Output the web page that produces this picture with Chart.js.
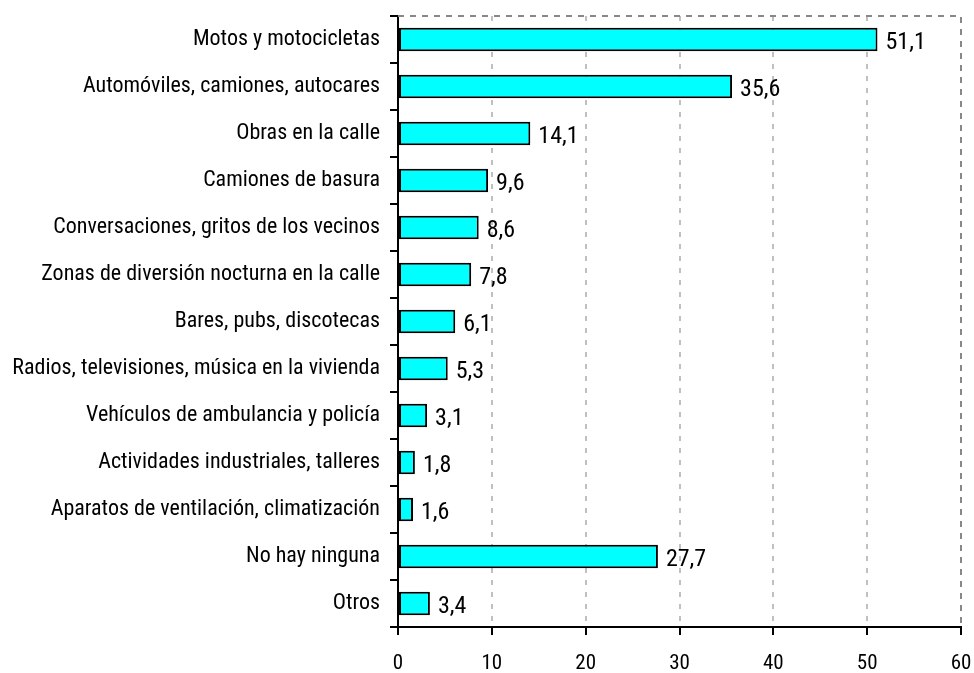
<!DOCTYPE html>
<html>
<head>
<meta charset="utf-8">
<script src="https://cdn.jsdelivr.net/npm/chart.js@4"></script>
<style>
  html, body { margin: 0; padding: 0; background: #fff; }
  #wrap { width: 974px; height: 673px; }
</style>
</head>
<body>
<div id="wrap"><canvas id="miGrafico"></canvas></div>
<script>
// categorias y valores (%)
const categorias = [
    'Motos y motocicletas',
    'Automóviles, camiones, autocares',
    'Obras en la calle',
    'Camiones de basura',
    'Conversaciones, gritos de los vecinos',
    'Zonas de diversión nocturna en la calle',
    'Bares, pubs, discotecas',
    'Radios, televisiones, música en la vivienda',
    'Vehículos de ambulancia y policía',
    'Actividades industriales, talleres',
    'Aparatos de ventilación, climatización',
    'No hay ninguna',
    'Otros'
]
const valores = [51.1, 35.6, 14.1, 9.6, 8.6, 7.8, 6.1, 5.3, 3.1, 1.8, 1.6, 27.7, 3.4]
const ejeMin = 0
const ejeMax = 60
const ejePaso = 10

const fuente = "'Roboto Condensed', 'DejaVu Sans Condensed', sans-serif"

// etiquetas de valor al final de cada barra
const etiquetasValor = {
    id: 'etiquetasValor',
    afterDatasetsDraw(chart) {
        const ctx = chart.ctx
        const meta = chart.getDatasetMeta(0)
        ctx.save()
        ctx.font = '24px ' + fuente
        ctx.fillStyle = '#000'
        ctx.textAlign = 'left'
        ctx.textBaseline = 'middle'
        meta.data.forEach(function(barra, i) {
            const txt = valores[i].toFixed(1).replace('.', ',')
            ctx.fillText(txt, barra.x + 8, barra.y + 3)
        })
        ctx.restore()
    }
}

// borde superior y derecho punteado
const bordeMarco = {
    id: 'bordeMarco',
    beforeDatasetsDraw(chart) {
        const a = chart.chartArea
        const ctx = chart.ctx
        ctx.save()
        ctx.strokeStyle = '#888'
        ctx.lineWidth = 2
        ctx.setLineDash([6, 6])
        ctx.beginPath()
        ctx.moveTo(a.left, a.top)
        ctx.lineTo(a.right, a.top)
        ctx.lineTo(a.right, a.bottom)
        ctx.stroke()
        ctx.restore()
    }
}

const ctx = document.getElementById('miGrafico')

new Chart(ctx, {
    type: 'bar',
    data: {
        labels: categorias,
        datasets: [{
            data: valores,
            backgroundColor: '#00ffff',
            borderColor: '#000',
            borderWidth: 2,
            borderSkipped: false,
            barPercentage: 0.5,
            categoryPercentage: 1
        }]
    },
    plugins: [bordeMarco, etiquetasValor],
    options: {
        indexAxis: 'y',
        responsive: true,
        maintainAspectRatio: false,
        animation: false,
        layout: { padding: { top: 16, right: 13, left: 0, bottom: 0 } },
        plugins: {
            legend: { display: false },
            tooltip: { enabled: false }
        },
        scales: {
            x: {
                min: ejeMin,
                max: ejeMax,
                afterFit: function(s) {
                    s.height = 46
                    s.paddingRight = 0
                    s.paddingLeft = 0
                },
                ticks: {
                    stepSize: ejePaso,
                    color: '#000',
                    font: { family: fuente, size: 21 },
                    padding: 16
                },
                grid: {
                    color: function(c) { return (c.tick && c.tick.value > 0 && c.tick.value < ejeMax) ? '#c0c0c0' : 'rgba(0,0,0,0)' },
                    lineWidth: 2,
                    tickColor: '#000',
                    tickLength: 8,
                    tickWidth: 2
                },
                border: { color: '#000', width: 2, dash: [5, 7] }
            },
            y: {
                afterFit: function(s) {
                    s.width = 398
                    s.paddingTop = 0
                    s.paddingBottom = 0
                },
                ticks: {
                    color: '#000',
                    font: { family: fuente, size: 22 },
                    padding: 10
                },
                grid: {
                    offset: true,
                    drawOnChartArea: false,
                    color: '#000',
                    tickColor: '#000',
                    tickLength: 8,
                    lineWidth: 2
                },
                border: { color: '#000', width: 2 }
            }
        }
    }
})
</script>
</body>
</html>
